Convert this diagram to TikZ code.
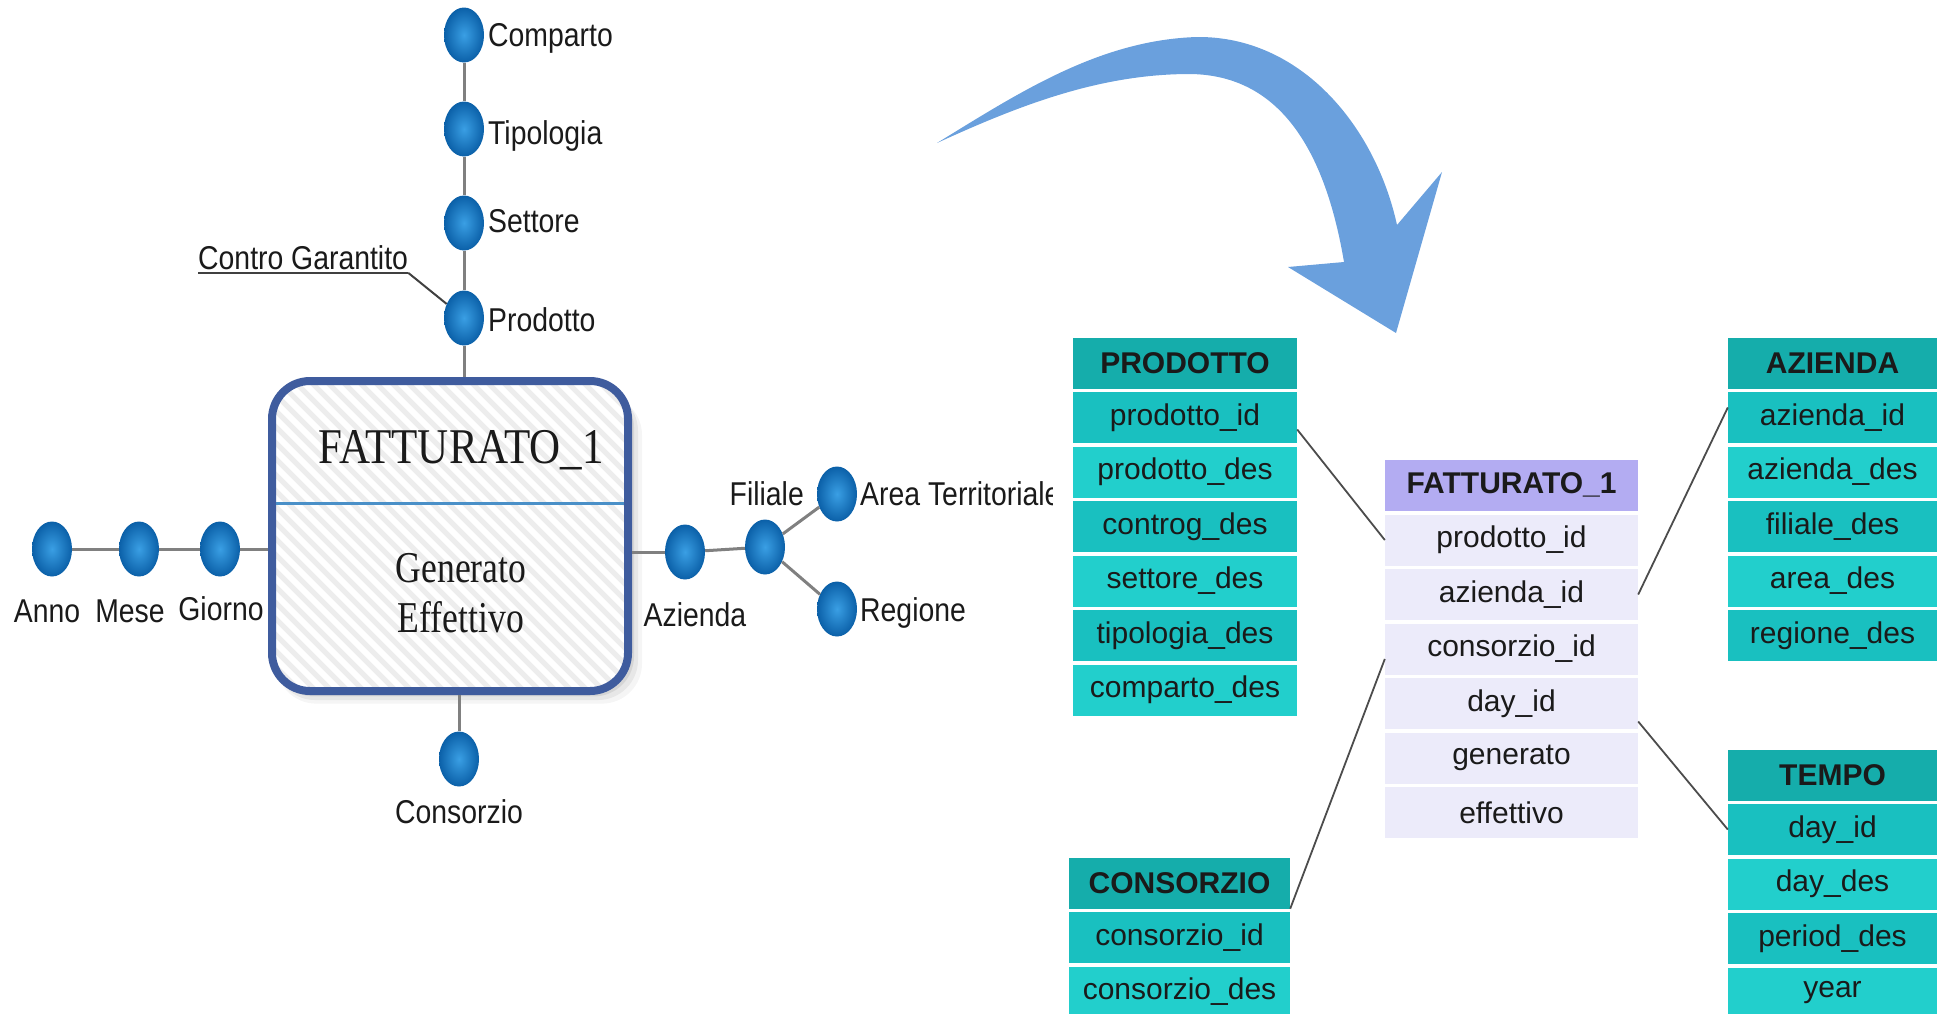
\documentclass[tikz,border=0pt]{standalone}
\usepackage{fontspec}
\setmainfont{Liberation Sans}
\newfontfamily\labfont[FakeStretch=0.86]{Liberation Sans}
\newfontfamily\sertitle[FakeStretch=0.86]{Liberation Serif}
\newfontfamily\serfont[FakeStretch=0.81]{Liberation Serif}
\usetikzlibrary{shapes.geometric,calc}
\definecolor{dotin}{HTML}{3A9FE4}
\definecolor{dotout}{HTML}{0B60A8}
\definecolor{boxblue}{HTML}{3F5C9E}
\definecolor{divblue}{HTML}{4A90C8}
\definecolor{arrowblue}{HTML}{6AA0DD}
\definecolor{tealH}{HTML}{15ADAB}
\definecolor{tealA}{HTML}{19C0C0}
\definecolor{tealB}{HTML}{22CFCC}
\definecolor{lavH}{HTML}{B3ACF2}
\definecolor{lavR}{HTML}{ECEBFA}
\definecolor{txt}{HTML}{1A1A1A}
\begin{document}
\begin{tikzpicture}[x=1pt,y=-1pt,
  dot/.style={ellipse, minimum width=40, minimum height=55, inner sep=0, inner color=dotin, outer color=dotout},
  lab/.style={font=\labfont\fontsize{33}{36}\selectfont, inner sep=0, text=txt},
  stem/.style={draw=black!50, line width=3},
  conn/.style={draw=black!70, line width=1.8},
  tcell/.style={minimum height=51, inner sep=0, text=txt, font=\fontsize{30}{32}\selectfont},
  thead/.style={tcell, fill=tealH, font=\bfseries\fontsize{30}{32}\selectfont},
  trowA/.style={tcell, fill=tealA},
  trowB/.style={tcell, fill=tealB},
  fhead/.style={tcell, fill=lavH, font=\bfseries\fontsize{30}{32}\selectfont},
  frow/.style={tcell, fill=lavR},
]
\useasboundingbox (0,0) rectangle (1945,1013);

% ---------- big curved arrow ----------
\fill[arrowblue] (937,143) .. controls (1020,92) and (1100,40) .. (1197,37)
  .. controls (1300,36) and (1375,125) .. (1397,225)
  -- (1442,172) -- (1396,333) -- (1288,267) -- (1344,262)
  .. controls (1325,150) and (1280,75) .. (1190,74)
  .. controls (1100,74) and (1020,105) .. (937,143) -- cycle;

% ---------- fact box ----------
\foreach \k/\o in {14/0.04,10/0.06,6/0.08}{
  \fill[black, opacity=\o, rounded corners=40] (272+\k*0.3,381+\k) rectangle (628+\k,691+\k*0.9);
}
\fill[white, rounded corners=38] (272,381) rectangle (628,691);
\begin{scope}
  \clip[rounded corners=38] (272,381) rectangle (628,691);
  \foreach \i in {-330,-314,...,370}{
    \draw[black!7, line width=5] (272+\i,381) -- (582+\i,691);
  }
\end{scope}
\node[draw=boxblue, line width=8, rounded corners=38, minimum width=356, minimum height=310, inner sep=0] (box) at (450,536) {};
\draw[divblue, line width=3] (276,503) -- (624,503);
\node[font=\sertitle\fontsize{50}{54}\selectfont, inner sep=0, text=txt] (boxtitle) at (461,450) {FATTURATO\_1};
\node[font=\serfont\fontsize{44}{50}\selectfont, inner sep=0, align=center, text=txt] (boxbody) at (461,593) {Generato\\Effettivo};

% ---------- dimension nodes ----------
\node[dot] (comparto) at (464,35) {};
\node[dot] (tipologia) at (464,129) {};
\node[dot] (settore) at (464,223) {};
\node[dot] (prodotto) at (464,318) {};
\node[dot] (anno) at (52,549) {};
\node[dot] (mese) at (139,549) {};
\node[dot] (giorno) at (220,549) {};
\node[dot] (azienda) at (685,552) {};
\node[dot] (filiale) at (765,547) {};
\node[dot] (area) at (837,494) {};
\node[dot] (regione) at (837,609) {};
\node[dot] (consorzio) at (459,759) {};

\draw[stem] (comparto) -- (tipologia);
\draw[stem] (tipologia) -- (settore);
\draw[stem] (settore) -- (prodotto);
\draw[stem] (prodotto) -- (prodotto |- box.north);
\draw[stem] (anno) -- (mese);
\draw[stem] (mese) -- (giorno);
\draw[stem] (giorno) -- (giorno -| box.west);
\draw[stem] (azienda -| box.east) -- (azienda);
\draw[stem] (azienda) -- (filiale);
\draw[stem] (filiale) -- (area);
\draw[stem] (filiale) -- (regione);
\draw[stem] (consorzio |- box.south) -- (consorzio);

% ---------- labels ----------
\node[lab, anchor=west] (lcomparto) at (488,38) {Comparto};
\node[lab, anchor=west] (ltipologia) at (488,136) {Tipologia};
\node[lab, anchor=west] (lsettore) at (488,221) {Settore};
\node[lab, anchor=west] (lprodotto) at (488,320) {Prodotto};
\node[lab, anchor=west] (lcg) at (198,258) {Contro Garantito};
\draw[black!75, line width=2] ([yshift=-3pt]lcg.base west) -- ([yshift=-3pt]lcg.base east);
\draw[black!75, line width=2] ([yshift=-3pt]lcg.base east) -- (prodotto);
\node[lab] (lanno) at (47,611) {Anno};
\node[lab] (lmese) at (130,611) {Mese};
\node[lab] (lgiorno) at (221,609) {Giorno};
\node[lab] (lazienda) at (695,615) {Azienda};
\node[lab, anchor=east] (lfiliale) at (804,494) {Filiale};
\begin{scope}
  \clip (0,0) rectangle (1052,1013);
  \node[lab, anchor=west] (larea) at (860,494) {Area Territoriale};
\end{scope}
\node[lab, anchor=west] (lregione) at (860,613) {Regione};
\node[lab] (lconsorzio) at (459,812) {Consorzio};

% ---------- PRODOTTO table ----------
\begin{scope}[every node/.append style={minimum width=224}]
\node[thead] (ph) at (1185,363) {PRODOTTO};
\node[trowA] (p1) at (1185,417.5) {prodotto\_id};
\node[trowB] (p2) at (1185,472) {prodotto\_des};
\node[trowA] (p3) at (1185,526.5) {controg\_des};
\node[trowB] (p4) at (1185,581) {settore\_des};
\node[trowA] (p5) at (1185,635.5) {tipologia\_des};
\node[trowB] (p6) at (1185,690) {comparto\_des};
\end{scope}

% ---------- CONSORZIO table ----------
\begin{scope}[every node/.append style={minimum width=221}]
\node[thead] (ch) at (1179.5,883) {CONSORZIO};
\node[trowA] (c1) at (1179.5,937.5) {consorzio\_id};
\node[trowB] (c2) at (1179.5,992) {consorzio\_des};
\end{scope}

% ---------- FATTURATO_1 table ----------
\begin{scope}[every node/.append style={minimum width=253}]
\node[fhead] (fh) at (1511.5,485) {FATTURATO\_1};
\node[frow] (f1) at (1511.5,540) {prodotto\_id};
\node[frow] (f2) at (1511.5,594.5) {azienda\_id};
\node[frow] (f3) at (1511.5,649) {consorzio\_id};
\node[frow] (f4) at (1511.5,703.5) {day\_id};
\node[frow] (f5) at (1511.5,758) {generato};
\node[frow] (f6) at (1511.5,812.5) {effettivo};
\end{scope}

% ---------- AZIENDA table ----------
\begin{scope}[every node/.append style={minimum width=209}]
\node[thead] (ah) at (1832.5,363) {AZIENDA};
\node[trowA] (a1) at (1832.5,417.5) {azienda\_id};
\node[trowB] (a2) at (1832.5,472) {azienda\_des};
\node[trowA] (a3) at (1832.5,526.5) {filiale\_des};
\node[trowB] (a4) at (1832.5,581) {area\_des};
\node[trowA] (a5) at (1832.5,635.5) {regione\_des};
\end{scope}

% ---------- TEMPO table ----------
\begin{scope}[every node/.append style={minimum width=209}]
\node[thead] (th) at (1832.5,775) {TEMPO};
\node[trowA] (t1) at (1832.5,829.5) {day\_id};
\node[trowB] (t2) at (1832.5,884) {day\_des};
\node[trowA] (t3) at (1832.5,938.5) {period\_des};
\node[trowB] (t4) at (1832.5,993) {year};
\end{scope}

% ---------- table connectors ----------
\draw[conn] ([yshift=-12pt]p1.east) -- (f1.west);
\draw[conn] (ch.south east) -- ([yshift=-10pt]f3.west);
\draw[conn] (f2.east) -- ([yshift=10pt]a1.west);
\draw[conn] ([yshift=-18pt]f4.east) -- (t1.west);
\end{tikzpicture}
\end{document}
